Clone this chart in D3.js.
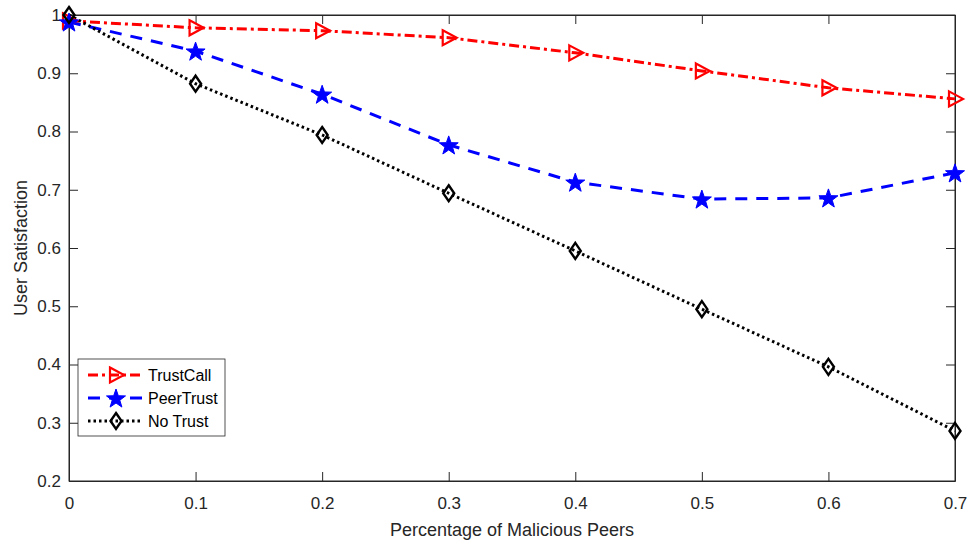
<!DOCTYPE html>
<html><head><meta charset="utf-8">
<script src="https://cdn.jsdelivr.net/npm/d3@7"></script>
<style>body{margin:0;background:#fff}svg{display:block}text{font-family:"Liberation Sans",Arial,sans-serif}</style>
</head><body>
<svg id="c" width="971" height="548"></svg>
<script>
const xValues = [0, 0.1, 0.2, 0.3, 0.4, 0.5, 0.6, 0.7];
const trustCall = [0.990, 0.978, 0.973, 0.961, 0.935, 0.904, 0.875, 0.856];
const peerTrust = [0.988, 0.938, 0.864, 0.777, 0.713, 0.684, 0.686, 0.729];
const noTrust = [1.000, 0.882, 0.794, 0.694, 0.595, 0.495, 0.396, 0.286];
const xTicks = [0, 0.1, 0.2, 0.3, 0.4, 0.5, 0.6, 0.7];
const yTicks = [0.2, 0.3, 0.4, 0.5, 0.6, 0.7, 0.8, 0.9, 1];
const seriesNames = ["TrustCall", "PeerTrust", "No Trust"];

const svg = d3.select("#c");
const L = 69, R = 955, T = 15, B = 481;
const x = d3.scaleLinear().domain([0, 0.7]).range([L, R]);
const y = d3.scaleLinear().domain([0.2, 1]).range([B, T]);
const axColor = "#262626";
const fmt = d => d === 0 ? "0" : (d === 1 ? "1" : d3.format(".1f")(d));

svg.append("rect").attr("x", L).attr("y", T).attr("width", R - L).attr("height", B - T)
  .attr("fill", "none").attr("stroke", axColor).attr("stroke-width", 1);

const xa = svg.append("g").attr("transform", `translate(0,${B})`)
  .call(d3.axisBottom(x).tickValues(xTicks).tickFormat(fmt).tickSizeInner(-9).tickSizeOuter(0).tickPadding(16));
const ya = svg.append("g").attr("transform", `translate(${L},0)`)
  .call(d3.axisLeft(y).tickValues(yTicks).tickFormat(fmt).tickSizeInner(-9).tickSizeOuter(0).tickPadding(8));
const xt = svg.append("g").attr("transform", `translate(0,${T})`)
  .call(d3.axisTop(x).tickValues(xTicks).tickFormat("").tickSizeInner(-9).tickSizeOuter(0));
const yr = svg.append("g").attr("transform", `translate(${R},0)`)
  .call(d3.axisRight(y).tickValues(yTicks).tickFormat("").tickSizeInner(-9).tickSizeOuter(0));
[xa, ya, xt, yr].forEach(g => {
  g.select(".domain").attr("stroke", axColor);
  g.selectAll(".tick line").attr("stroke", axColor);
  g.selectAll("text").attr("fill", axColor).style("font-size", "17px").style("font-family", '"Liberation Sans",Arial,sans-serif');
});

svg.append("text").attr("x", (L + R) / 2).attr("y", 536).attr("text-anchor", "middle")
  .attr("fill", axColor).style("font-size", "18px").text("Percentage of Malicious Peers");
svg.append("text").attr("transform", `translate(27,${(T + B) / 2}) rotate(-90)`).attr("text-anchor", "middle")
  .attr("fill", axColor).style("font-size", "18px").text("User Satisfaction");

const series = [
  {name: seriesNames[0], vals: trustCall, color: "#ff0000", dash: "10,4,3,4", marker: "tri"},
  {name: seriesNames[1], vals: peerTrust, color: "#0000ff", dash: "12,9", marker: "star"},
  {name: seriesNames[2], vals: noTrust, color: "#000000", dash: "2.5,3", marker: "dia"}
];

function starPath(r) {
  let p = [];
  for (let i = 0; i < 10; i++) {
    const rr = i % 2 === 0 ? r : r * 0.4;
    const a = -Math.PI / 2 + i * Math.PI / 5;
    p.push([rr * Math.cos(a), rr * Math.sin(a)]);
  }
  return "M" + p.map(d => d.join(",")).join("L") + "Z";
}
function drawMarker(g, type, color, cx, cy) {
  if (type === "tri") {
    g.append("path").attr("d", "M-6,-7.5L8,0L-6,7.5Z").attr("transform", `translate(${cx},${cy})`)
      .attr("fill", "none").attr("stroke", color).attr("stroke-width", 2.2);
  } else if (type === "star") {
    g.append("path").attr("d", starPath(10)).attr("transform", `translate(${cx},${cy + 1})`)
      .attr("fill", color).attr("stroke", color).attr("stroke-width", 1);
  } else {
    g.append("path").attr("d", "M0,-8L5.5,0L0,8L-5.5,0Z").attr("transform", `translate(${cx},${cy})`)
      .attr("fill", "none").attr("stroke", color).attr("stroke-width", 2.4);
  }
}

const line = d3.line().x((d, i) => x(xValues[i])).y(d => y(d));
series.forEach(s => {
  svg.append("path").attr("d", line(s.vals)).attr("fill", "none").attr("stroke", s.color)
    .attr("stroke-width", 3).attr("stroke-dasharray", s.dash);
});
series.forEach(s => {
  const g = svg.append("g");
  s.vals.forEach((v, i) => drawMarker(g, s.marker, s.color, x(xValues[i]), y(v)));
});

const lg = svg.append("g");
lg.append("rect").attr("x", 78).attr("y", 359).attr("width", 147).attr("height", 77)
  .attr("fill", "#fff").attr("stroke", axColor).attr("stroke-width", 0.8);
series.forEach((s, i) => {
  const cy = 375 + i * 23;
  lg.append("path").attr("d", `M88,${cy}L142,${cy}`).attr("stroke", s.color).attr("stroke-width", 3)
    .attr("stroke-dasharray", s.dash).attr("fill", "none");
  drawMarker(lg, s.marker, s.color, 116, cy);
  lg.append("text").attr("x", 148).attr("y", cy + 5.5).attr("fill", "#000").style("font-size", "16px").text(s.name);
});
</script>
</body></html>
